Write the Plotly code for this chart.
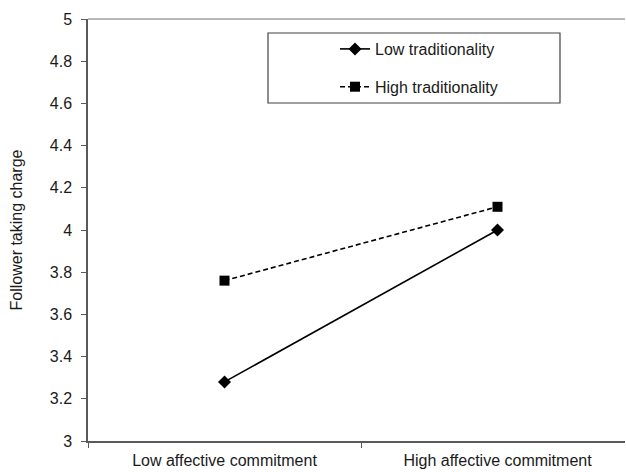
import plotly.graph_objects as go

categories = ["Low affective commitment", "High affective commitment"]
series_names = ["Low traditionality", "High traditionality"]
low_trad = [3.28, 4.00]
high_trad = [3.76, 4.11]
y_ticks = [3, 3.2, 3.4, 3.6, 3.8, 4, 4.2, 4.4, 4.6, 4.8, 5]
y_title = "Follower taking charge"

FONT = "Liberation Sans, Arial, sans-serif"
AXIS = "#595959"

fig = go.Figure()
fig.add_trace(go.Scatter(
    x=categories, y=low_trad, name=series_names[0], mode="lines+markers",
    line=dict(color="black", width=1.6),
    marker=dict(symbol="diamond", size=10, color="black"),
    legendgroup="a",
))
fig.add_trace(go.Scatter(
    x=categories, y=high_trad, name=series_names[1], mode="lines+markers",
    line=dict(color="black", width=1.6, dash="5px,3px"),
    marker=dict(symbol="square", size=10, color="black"),
    legendgroup="b",
))

fig.update_layout(
    width=626, height=472,
    margin=dict(l=88, r=1, t=19, b=31),
    paper_bgcolor="white", plot_bgcolor="white",
    font=dict(family=FONT, size=16, color="#1a1a1a"),
    showlegend=True,
    legend=dict(
        x=(335 - 88) / 537, xanchor="left",
        y=(441 - 32) / 422, yanchor="top",
        bgcolor="rgba(0,0,0,0)", borderwidth=0,
        font=dict(size=16, color="#1a1a1a"),
        tracegroupgap=14,
    ),
    xaxis=dict(
        type="category", range=[-0.5, 1.467], automargin=False,
        showline=True, linecolor=AXIS, linewidth=1.5,
        ticks="outside", ticklen=5, tickcolor=AXIS, tickwidth=1.2,
        tickson="boundaries", showgrid=False, zeroline=False,
        ticklabelstandoff=4,
        tickfont=dict(size=16),
    ),
    yaxis=dict(
        range=[3, 5], tickvals=y_ticks, automargin=False,
        showline=True, linecolor=AXIS, linewidth=1.5,
        ticks="outside", ticklen=5, tickcolor=AXIS, tickwidth=1.2,
        showgrid=False, zeroline=False,
        ticklabelstandoff=6,
        tickfont=dict(size=16),
        title=dict(text=y_title, font=dict(size=16), standoff=23),
    ),
    shapes=[
        dict(type="line", xref="paper", yref="paper", x0=0, x1=1, y0=1, y1=1,
             line=dict(color="#a0a0a0", width=1.5)),
        dict(type="rect", xref="paper", yref="paper",
             x0=(268 - 88) / 537, x1=(560 - 88) / 537,
             y0=(441 - 103) / 422, y1=(441 - 33) / 422,
             line=dict(color="#404040", width=1.2), fillcolor="rgba(0,0,0,0)"),
    ],
)

fig.write_html("out.html", config={"displayModeBar": False},
               post_script="document.body.style.margin='0';")
